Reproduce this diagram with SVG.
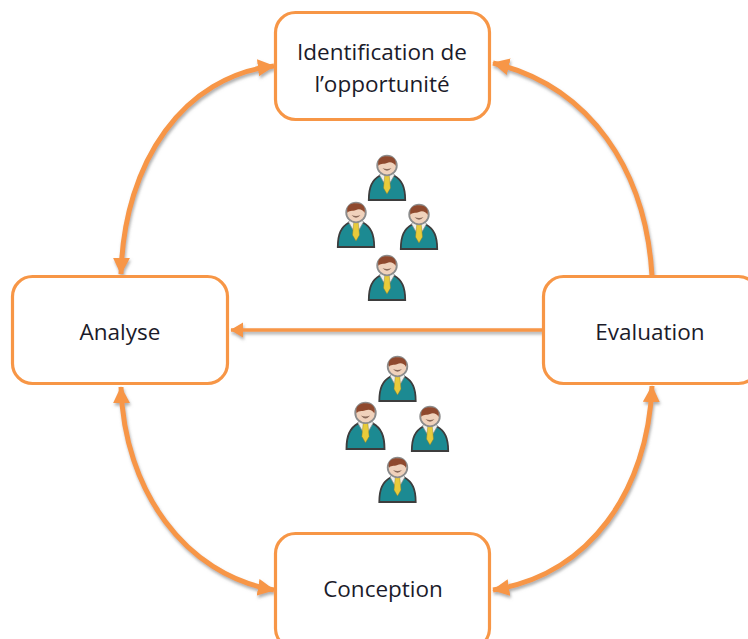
<svg xmlns="http://www.w3.org/2000/svg" width="748" height="639" viewBox="0 0 748 639">
<style>
.box{fill:#fff;stroke:#f79646;stroke-width:3.2}
.lbl{font-family:"Open Sans","Noto Sans","Liberation Sans",sans-serif;font-size:22.500px;fill:#1b1b2a;text-anchor:middle}
.conn{fill:none;stroke:#f79646;stroke-width:5}
.thin{stroke-width:3.6}
</style>
<defs>
<filter id="sh" x="-20%" y="-20%" width="140%" height="140%"><feDropShadow dx="1" dy="2.500" stdDeviation="1.500" flood-color="#777" flood-opacity=".6"/></filter>
<filter id="soft" x="-10%" y="-10%" width="120%" height="120%"><feGaussianBlur stdDeviation="0.45"/></filter>
<marker id="ah" viewBox="0 0 10 10" refX="9.500" refY="5" markerWidth="3.400" markerHeight="3.400" orient="auto-start-reverse"><path d="M0,0L10,5L0,10Z" fill="#f79646"/></marker>
<marker id="ahs" viewBox="0 0 10 10" refX="9.500" refY="5" markerWidth="3.600" markerHeight="4.200" preserveAspectRatio="none" orient="auto"><path d="M0,0L10,5L0,10Z" fill="#f79646"/></marker>
<symbol id="person" viewBox="0 0 38 46" overflow="visible">
<g filter="url(#soft)">
<path d="M0.800,45C0.800,32 4,25 12,20.500L26,20.500C34,25 37.200,32 37.200,45Z" fill="#1f8a92" stroke="#3c3c3c" stroke-width="1.800"/>
<path d="M11.500,20L19,33L26.500,20L23,16L15,16Z" fill="#eef0ee" stroke="#8a8a8a" stroke-width=".7"/>
<path d="M16.800,20L21.200,20L22.500,33L19,39L15.500,33Z" fill="#e8cb3a" stroke="#8a7a20" stroke-width=".4"/>
<circle cx="19" cy="10.500" r="9.800" fill="#f0d2bc" stroke="#8c8c8c" stroke-width="1.800"/>
<path d="M10.500,11C8.500,3 15,1 19.500,1.300C25.500,1.300 29,5 27.500,11C26,7.500 22,6.500 19,8C15,9.500 12,8 10.500,11Z" fill="#8f4a2e"/>
<path d="M14.500,13Q19,18.500 23.500,13Q19,15 14.500,13Z" fill="#8a6a5a"/>
</g>
</symbol>
</defs>
<rect width="748" height="639" fill="#fff"/>
<g id="connectors" filter="url(#sh)">
<path class="conn" marker-start="url(#ah)" marker-end="url(#ah)" d="M274,66C185,76 124,160 121,274"/>
<path class="conn" marker-end="url(#ah)" d="M652,276C646,170 590,86 493,63"/>
<path class="conn thin" marker-end="url(#ahs)" d="M543,330L231,330"/>
<path class="conn" marker-start="url(#ah)" marker-end="url(#ah)" d="M121,387C124,490 185,575 274,590"/>
<path class="conn" marker-start="url(#ah)" marker-end="url(#ah)" d="M652,386C648,490 590,575 493,590"/>
</g>
<g id="node-identification"><rect class="box" x="275.500" y="12.500" width="214" height="107" rx="20"/><text class="lbl" x="382" y="60">Identification de</text><text class="lbl" x="382" y="92">l’opportunité</text></g>
<g id="node-analyse"><rect class="box" x="12.500" y="276.500" width="215" height="107" rx="20"/><text class="lbl" x="120" y="340">Analyse</text></g>
<g id="node-evaluation"><rect class="box" x="543.500" y="276.500" width="215" height="107" rx="20"/><text class="lbl" x="650" y="340">Evaluation</text></g>
<g id="node-conception"><rect class="box" x="275.500" y="533.500" width="214" height="115" rx="20"/><text class="lbl" x="383" y="597">Conception</text></g>
<g id="people-top">
<use href="#person" x="368" y="155" width="38" height="46"/>
<use href="#person" x="337" y="202" width="38" height="46"/>
<use href="#person" x="400" y="204" width="38" height="46"/>
<use href="#person" x="368" y="255" width="38" height="46"/>
</g>
<g id="people-bottom">
<use href="#person" x="378" y="356" width="39" height="46"/>
<use href="#person" x="345" y="402" width="41" height="48"/>
<use href="#person" x="411" y="406" width="38" height="46"/>
<use href="#person" x="378" y="457" width="39" height="46"/>
</g>
</svg>
